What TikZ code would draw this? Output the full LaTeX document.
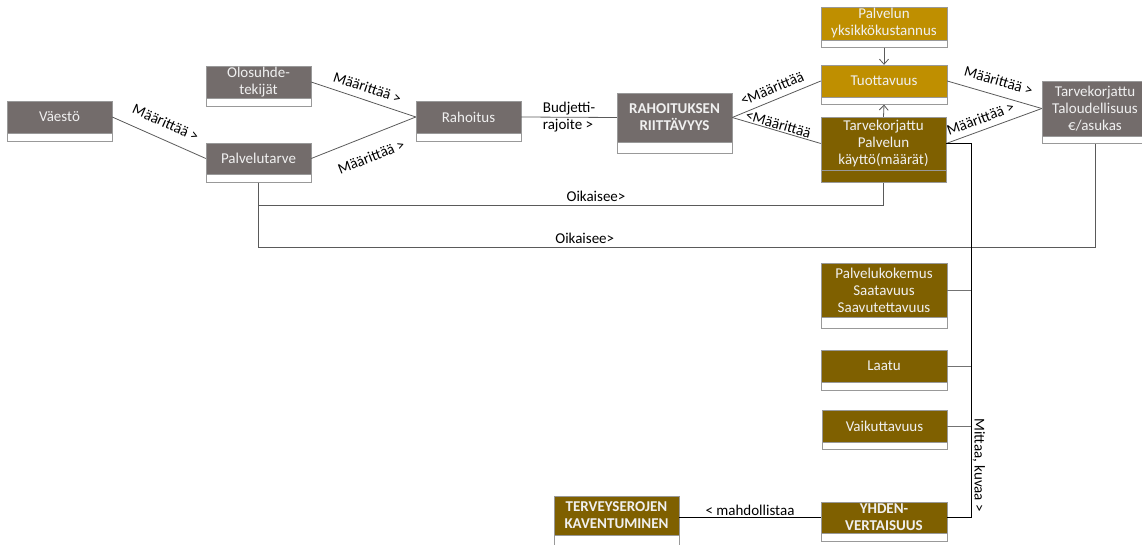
\documentclass[tikz,border=0pt]{standalone}
\usepackage{fontspec}
\setmainfont{Carlito}
\usetikzlibrary{positioning,arrows.meta}
\definecolor{boxgrey}{HTML}{736C6B}
\definecolor{boxgold}{HTML}{BF8F00}
\definecolor{boxbrown}{HTML}{7F6000}
\definecolor{linegrey}{HTML}{5A5A5A}
\begin{document}
\begin{tikzpicture}[x=1pt,y=-1pt]
\tikzstyle{box} = [draw=black!40, text=white!94!black, align=center, inner sep=1pt, font=\fontsize{15}{17}\selectfont, minimum width=105pt, minimum height=32pt]
\tikzstyle{greybox} = [box, fill=boxgrey]
\tikzstyle{goldbox} = [box, fill=boxgold, minimum width=126pt]
\tikzstyle{brownbox} = [box, fill=boxbrown, minimum width=126pt]
\tikzstyle{strip} = [draw=black!40, fill=white, inner sep=0pt, minimum height=8pt, minimum width=105pt]
\tikzstyle{link} = [draw=linegrey, line width=0.8pt]
\tikzstyle{stub} = [draw=black!55, line width=1pt]
\tikzstyle{bus} = [draw=black, line width=1.1pt]
\tikzstyle{lbl} = [font=\fontsize{15}{17}\selectfont, inner sep=1pt, text=black]

\useasboundingbox (0,0) rectangle (1142,545);

% left side
\node (Vaesto) [greybox] at (59.5,117) {Väestö};
\node (VaestoS) [strip, below=0pt of Vaesto] {};
\node (Olosuhde) [greybox] at (258.5,82) {Olosuhde-\\tekijät};
\node (OlosuhdeS) [strip, below=0pt of Olosuhde] {};
\node (Palvelutarve) [greybox, minimum height=31pt] at (258.5,158.5) {Palvelutarve};
\node (PalvelutarveS) [strip, below=0pt of Palvelutarve] {};
\node (Rahoitus) [greybox] at (468.5,117) {Rahoitus};
\node (RahoitusS) [strip, below=0pt of Rahoitus] {};
\node (Riittavyys) [greybox, minimum width=115pt, minimum height=49pt, font=\fontsize{15}{17}\selectfont\bfseries] at (674.5,117.5) {RAHOITUKSEN\\RIITTÄVYYS};
\node (RiittavyysS) [strip, minimum width=115pt, minimum height=11pt, below=0pt of Riittavyys] {};

% right column
\node (Yksikko) [goldbox, minimum height=33pt] at (884,23.5) {Palvelun\\yksikkökustannus};
\node (YksikkoS) [strip, minimum width=126pt, minimum height=7pt, below=0pt of Yksikko] {};
\node (Tuottavuus) [goldbox] at (884,81) {Tuottavuus};
\node (TuottavuusS) [strip, minimum width=126pt, minimum height=7pt, below=0pt of Tuottavuus] {};
\node (Kaytto) [brownbox, minimum width=125pt, minimum height=53pt] at (883.5,143.5) {Tarvekorjattu\\Palvelun\\käyttö(määrät)};
\node (KayttoS) [strip, fill=boxbrown, minimum width=125pt, minimum height=12pt, below=0pt of Kaytto] {};
\node (Talous) [greybox, minimum width=106pt, minimum height=55pt] at (1095,108.5) {Tarvekorjattu\\Taloudellisuus\\€/asukas};
\node (TalousS) [strip, minimum width=106pt, minimum height=7pt, below=0pt of Talous] {};

\node (Kokemus) [brownbox, minimum height=54pt] at (884,290) {Palvelukokemus\\Saatavuus\\Saavutettavuus};
\node (KokemusS) [strip, minimum width=126pt, minimum height=11pt, below=0pt of Kokemus] {};
\node (Laatu) [brownbox] at (884,366) {Laatu};
\node (LaatuS) [strip, minimum width=126pt, below=0pt of Laatu] {};
\node (Vaikuttavuus) [brownbox, minimum width=125pt] at (884.5,426) {Vaikuttavuus};
\node (VaikuttavuusS) [strip, minimum width=125pt, minimum height=7pt, below=0pt of Vaikuttavuus] {};
\node (Yhden) [brownbox, minimum height=31pt, font=\fontsize{15}{17}\selectfont\bfseries] at (884,517.5) {YHDEN-\\VERTAISUUS};
\node (YhdenS) [strip, minimum width=126pt, below=0pt of Yhden] {};
\node (Terveys) [brownbox, minimum width=125pt, minimum height=39pt, font=\fontsize{15}{17}\selectfont\bfseries] at (616.5,515.5) {TERVEYSEROJEN\\KAVENTUMINEN};
\node (TerveysS) [strip, minimum width=125pt, minimum height=12pt, below=0pt of Terveys] {};

% connectors
\draw[link] (Vaesto.east) -- node[lbl, sloped, above=10pt] {Määrittää >} (Palvelutarve.west);
\draw[link] (Olosuhde.east) -- node[lbl, sloped, above=6pt] {Määrittää >} (Rahoitus.west);
\draw[link] (Palvelutarve.east) -- node[lbl, sloped, below=14pt] {Määrittää >} (Rahoitus.west);
\draw[link] (Rahoitus.east) -- node[lbl, align=left] {Budjetti-\\rajoite >} (Riittavyys.west);
\draw[link] (Riittavyys.east) -- node[lbl, sloped, above=5pt] {<Määrittää} (Tuottavuus.west);
\draw[link] (Riittavyys.east) -- node[lbl, sloped, above] {<Määrittää} (Kaytto.west);
\draw[link] (Tuottavuus.east) -- node[lbl, sloped, above=8pt] {Määrittää >} (Talous.west);
\draw[link] (Kaytto.east) -- node[lbl, sloped, above=5pt, pos=0.4] {Määrittää >} (Talous.west);
\draw[link, -{Straight Barb[length=5pt,width=9pt]}] (YksikkoS.south) -- (Tuottavuus.north);
\draw[link, -{Straight Barb[length=5pt,width=9pt]}] (Kaytto.north) -- (TuottavuusS.south);

\draw[link] (PalvelutarveS.south) -- ++(0,23) -| node[lbl, pos=0.27, above=3pt] {Oikaisee>} (KayttoS.south);
\draw[link] (PalvelutarveS.south) -- ++(0,65) -| node[lbl, pos=0.195, above=3pt] {Oikaisee>} (TalousS.south);

\coordinate (MittaaTop) at ([xshift=25pt]Kaytto.east);
\draw[bus] (Kaytto.east) -- (MittaaTop) |- node[lbl, pos=0.43, rotate=-90, anchor=south] {Mittaa, kuvaa >} (Yhden.east);
\draw[stub] (Kokemus.east) -- (Kokemus.east -| MittaaTop);
\draw[stub] (Laatu.east) -- (Laatu.east -| MittaaTop);
\draw[stub] (Vaikuttavuus.east) -- (Vaikuttavuus.east -| MittaaTop);

\draw[bus, line width=0.8pt] (Yhden.west) -- node[lbl, above] {< mahdollistaa} (Yhden.west -| Terveys.east);

\end{tikzpicture}
\end{document}
